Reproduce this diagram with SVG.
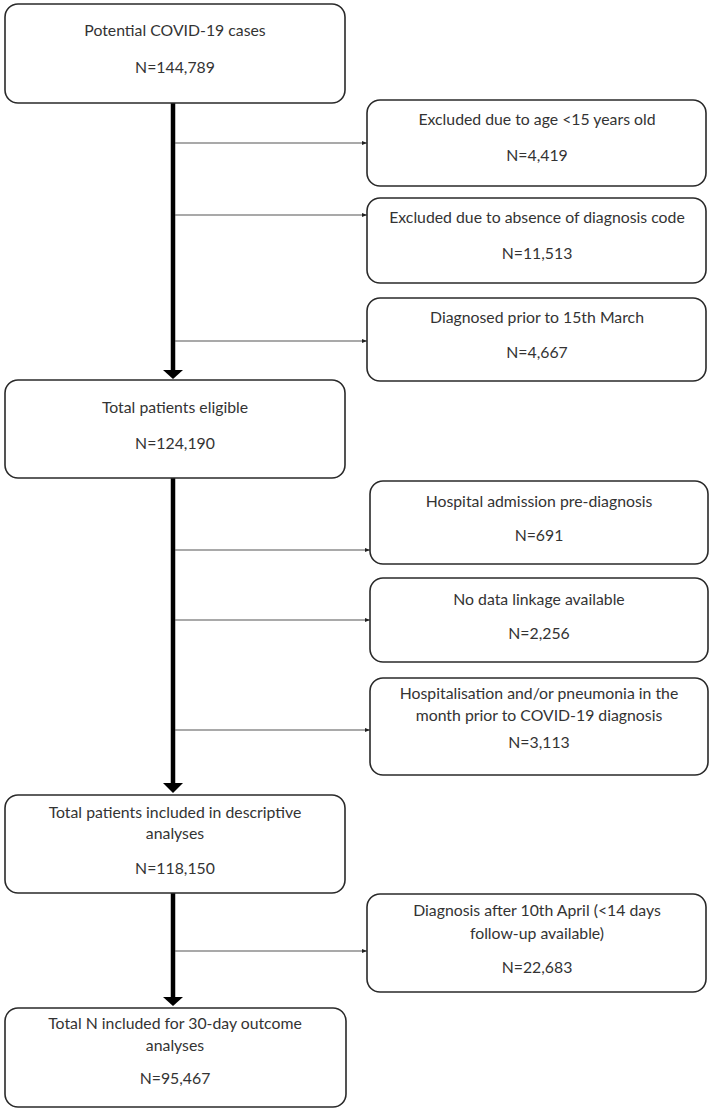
<svg xmlns="http://www.w3.org/2000/svg" width="717" height="1114" viewBox="0 0 717 1114">
<style>
.box{fill:#fff;stroke:#2a2a2a;stroke-width:1.6}
.t{font-family:Lato,"Open Sans",sans-serif;font-size:15.8px;fill:#333;text-anchor:middle}
.thin{stroke:#555;stroke-width:1.2;fill:none}
.thick{stroke:#000;stroke-width:4.5;fill:none}
</style>
<defs>
<marker id="sa" markerWidth="6" markerHeight="6" refX="5" refY="3" orient="auto" markerUnits="userSpaceOnUse">
<path d="M0,1 L5,3 L0,5 Z" fill="#222"/>
</marker>
</defs>
<g id="connectors">
<line class="thick" x1="173" y1="103" x2="173" y2="370"/>
<path d="M163,370 L183,370 L173,379 Z" fill="#000"/>
<line class="thick" x1="173" y1="478" x2="173" y2="783"/>
<path d="M163,783 L183,783 L173,793 Z" fill="#000"/>
<line class="thick" x1="173" y1="893" x2="173" y2="997"/>
<path d="M163,997 L183,997 L173,1006 Z" fill="#000"/>
<line class="thin" x1="175" y1="143" x2="367" y2="143" marker-end="url(#sa)"/>
<line class="thin" x1="175" y1="215" x2="367" y2="215" marker-end="url(#sa)"/>
<line class="thin" x1="175" y1="341" x2="367" y2="341" marker-end="url(#sa)"/>
<line class="thin" x1="175" y1="550" x2="370" y2="550" marker-end="url(#sa)"/>
<line class="thin" x1="175" y1="620" x2="370" y2="620" marker-end="url(#sa)"/>
<line class="thin" x1="175" y1="730" x2="370" y2="730" marker-end="url(#sa)"/>
<line class="thin" x1="175" y1="951" x2="367" y2="951" marker-end="url(#sa)"/>
</g>
<g id="n1"><rect class="box" x="5" y="4" width="340" height="99" rx="13"/>
<text class="t" x="175" y="36">Potential COVID-19 cases</text>
<text class="t" x="175" y="73">N=144,789</text></g>
<g id="e1"><rect class="box" x="367" y="100" width="339" height="86" rx="13"/>
<text class="t" x="537" y="125">Excluded due to age &lt;15 years old</text>
<text class="t" x="537" y="161">N=4,419</text></g>
<g id="e2"><rect class="box" x="367" y="198" width="339" height="85" rx="13"/>
<text class="t" x="537" y="223">Excluded due to absence of diagnosis code</text>
<text class="t" x="537" y="259">N=11,513</text></g>
<g id="e3"><rect class="box" x="367" y="298" width="339" height="83" rx="13"/>
<text class="t" x="537" y="323">Diagnosed prior to 15th March</text>
<text class="t" x="537" y="358">N=4,667</text></g>
<g id="n2"><rect class="box" x="5" y="380" width="340" height="98" rx="13"/>
<text class="t" x="175" y="413">Total patients eligible</text>
<text class="t" x="175" y="449">N=124,190</text></g>
<g id="e4"><rect class="box" x="370" y="481" width="338" height="83" rx="13"/>
<text class="t" x="539" y="507">Hospital admission pre-diagnosis</text>
<text class="t" x="539" y="541">N=691</text></g>
<g id="e5"><rect class="box" x="370" y="578" width="338" height="84" rx="13"/>
<text class="t" x="539" y="605">No data linkage available</text>
<text class="t" x="539" y="639">N=2,256</text></g>
<g id="e6"><rect class="box" x="370" y="678" width="338" height="97" rx="13"/>
<text class="t" x="539" y="699">Hospitalisation and/or pneumonia in the</text>
<text class="t" x="539" y="721">month prior to COVID-19 diagnosis</text>
<text class="t" x="539" y="748">N=3,113</text></g>
<g id="n3"><rect class="box" x="5" y="795" width="340" height="98" rx="13"/>
<text class="t" x="175" y="818">Total patients included in descriptive</text>
<text class="t" x="175" y="839">analyses</text>
<text class="t" x="175" y="874">N=118,150</text></g>
<g id="e7"><rect class="box" x="367" y="894" width="339" height="98" rx="13"/>
<text class="t" x="537" y="916">Diagnosis after 10th April (&lt;14 days</text>
<text class="t" x="537" y="939">follow-up available)</text>
<text class="t" x="537" y="973">N=22,683</text></g>
<g id="n4"><rect class="box" x="5" y="1008" width="341" height="99" rx="13"/>
<text class="t" x="175" y="1029">Total N included for 30-day outcome</text>
<text class="t" x="175" y="1051">analyses</text>
<text class="t" x="175" y="1084">N=95,467</text></g>
</svg>
